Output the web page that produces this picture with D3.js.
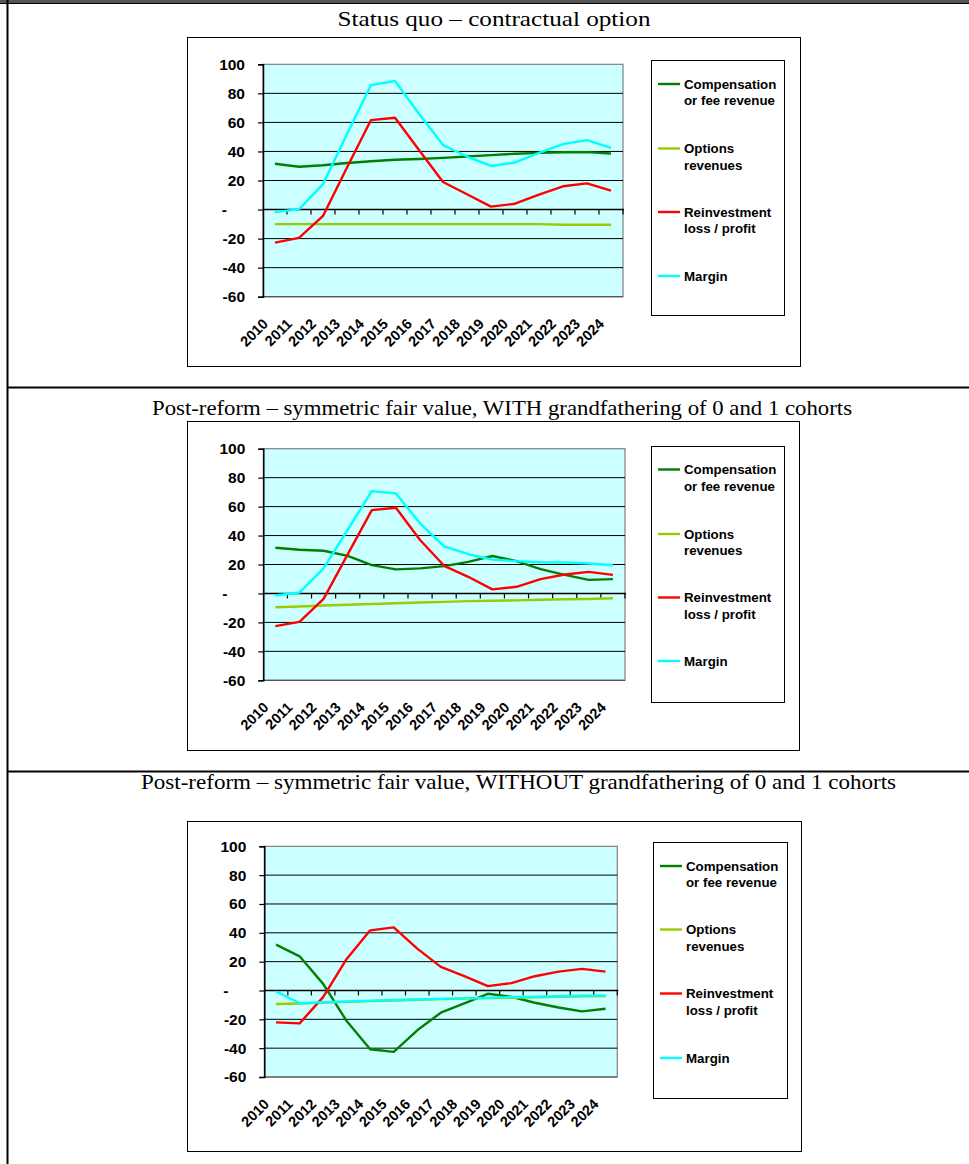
<!DOCTYPE html>
<html>
<head>
<meta charset="utf-8">
<script src="https://cdn.jsdelivr.net/npm/d3@7"></script>
<style>
  html, body { margin: 0; padding: 0; background: #fff; }
  svg { display: block; }
</style>
</head>
<body>
<script>
// ---------- DATA ----------
const years = ["2010","2011","2012","2013","2014","2015","2016","2017","2018","2019","2020","2021","2022","2023","2024"];
const seriesLabels = [["Compensation","or fee revenue"],["Options","revenues"],["Reinvestment","loss / profit"],["Margin"]];
const yTickValues = [-60,-40,-20,0,20,40,60,80,100];
const yTickLabels = ["-60","-40","-20","-","20","40","60","80","100"];
const titles = [
  "Status quo \u2013 contractual option",
  "Post-reform \u2013 symmetric fair value, WITH grandfathering of 0 and 1 cohorts",
  "Post-reform \u2013 symmetric fair value, WITHOUT grandfathering of 0 and 1 cohorts"
];

// Chart 1: Status quo
const sqComp   = [31.5, 29.5, 30.5, 32, 33.3, 34.3, 34.8, 35.6, 36.5, 37.5, 38.4, 39, 39.5, 39.5, 38.6];
const sqOpt    = [-10, -10, -10, -10, -10, -10, -10, -10, -10, -10, -10, -10, -10.5, -10.5, -10.5];
const sqReinv  = [-22.8, -19.5, -4.4, 29, 61.6, 63.2, 41, 19, 10.5, 2, 4, 10.3, 16, 18, 13];
const sqMargin = [-1.8, 0.2, 17.5, 52, 85.7, 88.5, 66, 44.4, 36.5, 30, 32.4, 39, 45, 47.8, 42.5];

// Chart 2: WITH grandfathering
const wgComp   = [31.6, 30.2, 29.5, 26, 19.6, 16.6, 17.3, 18.9, 21.8, 25.9, 22.3, 16.8, 12.8, 9.4, 9.9];
const wgOpt    = [-9.5, -9, -8.3, -7.8, -7.3, -6.8, -6.3, -5.8, -5.3, -5, -4.8, -4.4, -4, -3.8, -3.3];
const wgReinv  = [-22.6, -19.6, -3.7, 27, 57.6, 59.2, 36.9, 19.1, 11.5, 2.8, 4.6, 9.9, 13.1, 14.9, 12.8];
const wgMargin = [-1.4, 0.7, 17.3, 44, 70.7, 69.1, 48.4, 32.5, 27.1, 23.4, 22.3, 21.6, 21.4, 20.7, 19.5];

// Chart 3: WITHOUT grandfathering
const ngComp   = [31.8, 23.7, 4.6, -21.2, -40.8, -42.6, -27.6, -15.4, -9, -2.3, -4.4, -8.5, -11.8, -14.5, -12.7];
const ngOpt    = [-9.4, -9, -8.4, -7.9, -7.4, -6.9, -6.4, -6, -5.6, -5.3, -5, -4.7, -4.4, -4.1, -3.9];
const ngReinv  = [-22.1, -22.8, -4.6, 21.9, 41.7, 43.8, 29, 16.4, 9.9, 3, 5.1, 9.9, 13.1, 15, 13.1];
const ngMargin = [-0.7, -8.8, -8.2, -7.6, -7, -6.6, -6.2, -5.8, -5.5, -5.1, -4.6, -4.3, -4, -3.7, -3.4];

// ---------- STYLE / LAYOUT ----------
const colors = ["#008000", "#99CC00", "#FF0000", "#00FFFF"];
const W = 969, H = 1164;

const layouts = [
  { title: {cx: 494, y: 26, len: 313},
    box: {x: 187, y: 37, w: 613, h: 329},
    plot: {x: 263, y: 64.3, w: 360, h: 232.4},
    legend: {x: 651, y: 60, w: 133, h: 255, entries: [84, 148.5, 212, 276]} },
  { title: {cx: 502, y: 415, len: 700},
    box: {x: 187, y: 421, w: 612, h: 329},
    plot: {x: 263.3, y: 448.7, w: 361.7, h: 231.6},
    legend: {x: 651, y: 446, w: 133, h: 256, entries: [469.5, 534, 597.5, 661]} },
  { title: {cx: 518.5, y: 789, len: 755},
    box: {x: 187, y: 821, w: 614, h: 330},
    plot: {x: 264.3, y: 846.3, w: 353, h: 230.7},
    legend: {x: 653, y: 842, w: 134, h: 256, entries: [866, 929.5, 993.5, 1058]} }
];
const chartData = [
  [sqComp, sqOpt, sqReinv, sqMargin],
  [wgComp, wgOpt, wgReinv, wgMargin],
  [ngComp, ngOpt, ngReinv, ngMargin]
];

const svg = d3.select("body").append("svg").attr("width", W).attr("height", H);

// table borders
svg.append("rect").attr("x", 0).attr("y", 0).attr("width", W).attr("height", 3).attr("fill", "#555");
svg.append("line").attr("x1", 0).attr("x2", W).attr("y1", 3.5).attr("y2", 3.5).attr("stroke", "#000").attr("stroke-width", 1);
svg.append("line").attr("x1", 7.5).attr("x2", 7.5).attr("y1", 0).attr("y2", H).attr("stroke", "#000").attr("stroke-width", 2);
[387.5, 771.5].forEach(yy => {
  svg.append("line").attr("x1", 7).attr("x2", W).attr("y1", yy).attr("y2", yy).attr("stroke", "#000").attr("stroke-width", 2);
});

layouts.forEach((L, ci) => {
  const g = svg.append("g");
  // title
  g.append("text")
    .attr("x", L.title.cx).attr("y", L.title.y)
    .attr("text-anchor", "middle")
    .attr("textLength", L.title.len).attr("lengthAdjust", "spacingAndGlyphs")
    .style("font-family", "'Liberation Serif', 'DejaVu Serif', serif")
    .style("font-size", "21px")
    .text(titles[ci]);

  // chart box
  g.append("rect").attr("x", L.box.x + 1).attr("y", L.box.y + 1).attr("width", L.box.w).attr("height", L.box.h)
    .attr("fill", "#000");
  g.append("rect").attr("x", L.box.x + 0.5).attr("y", L.box.y + 0.5).attr("width", L.box.w).attr("height", L.box.h)
    .attr("fill", "#fff").attr("stroke", "#000").attr("stroke-width", 1);

  const P = L.plot;
  const x = d3.scaleBand().domain(years).range([P.x, P.x + P.w]);
  const y = d3.scaleLinear().domain([-60, 100]).range([P.y + P.h, P.y]);

  // plot background
  g.append("rect").attr("x", P.x).attr("y", P.y).attr("width", P.w).attr("height", P.h)
    .attr("fill", "#CCFFFF").attr("stroke", "#808080").attr("stroke-width", 1.2);

  // gridlines
  g.selectAll(".grid").data(yTickValues.filter(v => v !== 0 && v !== 100 && v !== -60))
    .enter().append("line")
    .attr("x1", P.x).attr("x2", P.x + P.w)
    .attr("y1", d => y(d)).attr("y2", d => y(d))
    .attr("stroke", "#000").attr("stroke-width", 1);

  // bottom border line
  g.append("line").attr("x1", P.x).attr("x2", P.x + P.w).attr("y1", y(-60)).attr("y2", y(-60))
    .attr("stroke", "#555").attr("stroke-width", 1.2);

  // y axis
  const yAxis = d3.axisLeft(y).tickValues(yTickValues).tickSize(5).tickPadding(13)
    .tickFormat((d, i) => yTickLabels[i]);
  const ya = g.append("g").attr("transform", `translate(${P.x},0)`).call(yAxis);
  ya.select(".domain").attr("stroke", "#000").attr("stroke-width", 1.5);
  ya.selectAll(".tick line").attr("stroke", "#000").attr("stroke-width", 1.2);
  ya.selectAll(".tick text")
    .style("font-family", "'Liberation Sans', Arial, sans-serif")
    .style("font-weight", "bold").style("font-size", "15.5px").attr("fill", "#000")
    .attr("dx", d => d === 0 ? -18 : 0);

  // zero axis with category-boundary ticks
  g.append("line").attr("x1", P.x).attr("x2", P.x + P.w + 1).attr("y1", y(0)).attr("y2", y(0))
    .attr("stroke", "#000").attr("stroke-width", 1.5);
  g.selectAll(".xtick").data(years).enter().append("line")
    .attr("x1", d => x(d) + x.bandwidth()).attr("x2", d => x(d) + x.bandwidth())
    .attr("y1", y(0)).attr("y2", y(0) + 5)
    .attr("stroke", "#000").attr("stroke-width", 1.2);

  // x labels
  g.selectAll(".xlab").data(years).enter().append("text")
    .attr("transform", d => `translate(${x(d) + x.bandwidth() / 2 - 6},${P.y + P.h + 28}) rotate(-45)`)
    .attr("text-anchor", "end")
    .style("font-family", "'Liberation Sans', Arial, sans-serif")
    .style("font-weight", "bold").style("font-size", "14.5px")
    .text(d => d);

  // lines
  const line = d3.line()
    .x((d, i) => x(years[i]) + x.bandwidth() / 2)
    .y(d => y(d));
  chartData[ci].forEach((vals, si) => {
    g.append("path").datum(vals)
      .attr("d", line)
      .attr("fill", "none")
      .attr("stroke", colors[si])
      .attr("stroke-width", 2.4)
      .attr("stroke-linejoin", "round");
  });

  // legend
  const Lg = L.legend;
  g.append("rect").attr("x", Lg.x + 0.5).attr("y", Lg.y + 0.5).attr("width", Lg.w).attr("height", Lg.h)
    .attr("fill", "#fff").attr("stroke", "#000").attr("stroke-width", 1);
  seriesLabels.forEach((lab, si) => {
    const ey = Lg.entries[si];
    g.append("line").attr("x1", Lg.x + 7).attr("x2", Lg.x + 29).attr("y1", ey).attr("y2", ey)
      .attr("stroke", colors[si]).attr("stroke-width", 2.4);
    const t = g.append("text")
      .attr("x", Lg.x + 33).attr("y", ey + 4.6)
      .style("font-family", "'Liberation Sans', Arial, sans-serif")
      .style("font-weight", "bold").style("font-size", "13.3px");
    lab.forEach((ln, li) => {
      t.append("tspan").attr("x", Lg.x + 33).attr("dy", li === 0 ? 0 : 16.7).text(ln);
    });
  });
});
</script>
</body>
</html>
